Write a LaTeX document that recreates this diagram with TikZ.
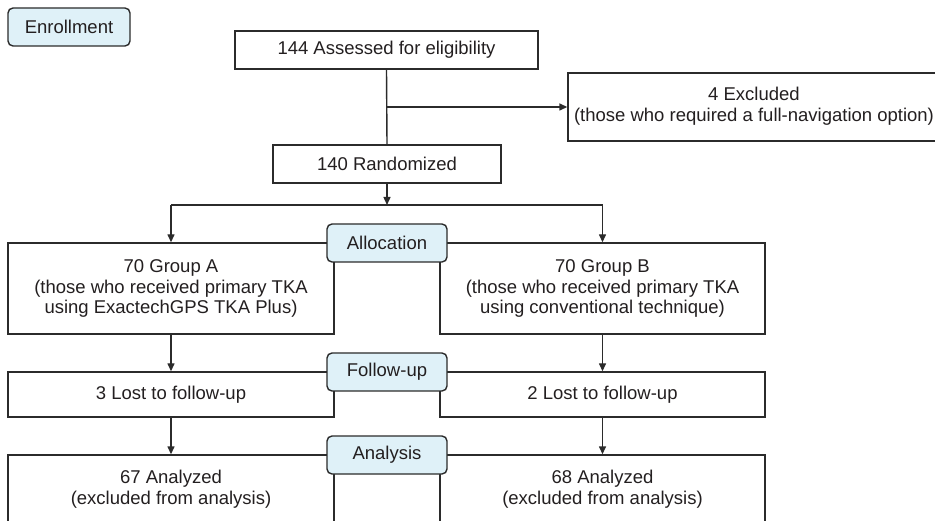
\documentclass[tikz,border=0pt]{standalone}
\usepackage{fontspec}
\setmainfont{Liberation Sans}
\usetikzlibrary{arrows.meta}
\definecolor{linegray}{HTML}{2B2B2B}
\definecolor{txtgray}{HTML}{231F20}
\definecolor{lblue}{HTML}{DFF1F8}
\begin{document}
\begin{tikzpicture}[x=1pt,y=-1pt,
  every node/.style={font=\fontsize{18.5}{20.5}\selectfont, text=txtgray, inner sep=0pt, align=center},
  box/.style={draw=linegray, line width=1.4pt, fill=white, rectangle},
  stage/.style={draw=linegray, line width=1.4pt, fill=lblue, rounded corners=5pt, minimum width=120pt, minimum height=38pt},
  conn/.style={draw=linegray, line width=1.4pt},
  arr/.style={conn, -{Triangle[length=8pt,width=7pt]}}]
\useasboundingbox (0,0) rectangle (935,521);
\clip (0,0) rectangle (935,521);
% boxes
\node[stage, minimum width=122pt] (enr) at (69,27) {Enrollment};
\node[box, minimum width=303pt, minimum height=38pt] (ass) at (386.5,50) {144 Assessed for eligibility};
\node[box, minimum width=378pt, minimum height=68pt] (exc) at (757,107) {};
\node (exct) at (754,106) {4 Excluded\\(those who required a full-navigation option)};
\node[box, minimum width=228pt, minimum height=38pt] (ran) at (387,164) {140 Randomized};
\node[box, minimum width=326pt, minimum height=91pt] (ga) at (171,288.5) {70 Group A\\(those who received primary TKA\\using ExactechGPS TKA Plus)};
\node[box, minimum width=325pt, minimum height=91pt] (gb) at (602.5,288.5) {70 Group B\\(those who received primary TKA\\using conventional technique)};
\node[box, minimum width=326pt, minimum height=45pt] (la) at (171,394.5) {3 Lost to follow-up};
\node[box, minimum width=325pt, minimum height=45pt] (lb) at (602.5,394.5) {2 Lost to follow-up};
\node[box, minimum width=326pt, minimum height=68pt] (aa) at (171,489) {67 Analyzed\\(excluded from analysis)};
\node[box, minimum width=325pt, minimum height=68pt] (ab) at (602.5,489) {68 Analyzed\\(excluded from analysis)};
% stage labels
\node[stage] (alloc) at (387,243) {Allocation};
\node[stage] (fu) at (387,372) {Follow-up};
\node[stage] (ana) at (387,455) {Analysis};
% connectors
\coordinate (br) at (387,107);
\coordinate (sp) at (387,205);
\coordinate (spl) at (171,205);
\coordinate (spr) at (602.5,205);
\draw[conn] (ass.south) -- (ran.north);
\draw[arr] (br) -- (exc.west);
\draw[arr] (ran.south) -- (sp);
\draw[conn] (spl) -- (spr);
\draw[arr] (spl) -- (ga.north);
\draw[arr] (spr) -- (gb.north);
\draw[arr] (ga.south) -- (la.north);
\draw[arr] (gb.south) -- (lb.north);
\draw[arr] (la.south) -- (aa.north);
\draw[arr] (lb.south) -- (ab.north);
\end{tikzpicture}
\end{document}
